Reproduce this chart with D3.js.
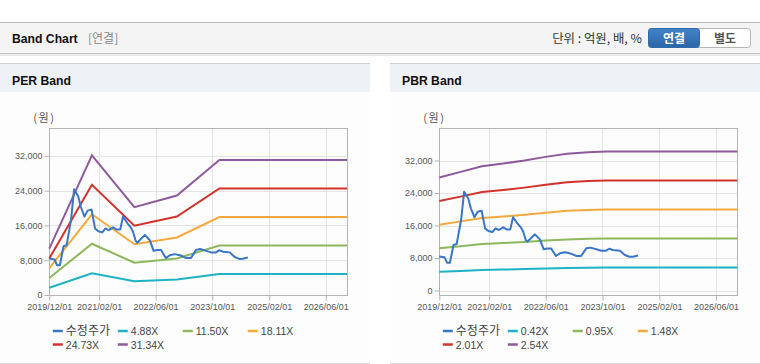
<!DOCTYPE html>
<html>
<head>
<meta charset="utf-8">
<script src="https://cdn.jsdelivr.net/npm/d3@7"></script>
<style>
  body { margin: 0; background: #fff; }
  svg { display: block; font-family: "Liberation Sans", Arial, "Noto Sans CJK KR", sans-serif; }
</style>
</head>
<body>
<svg id="chart" width="760" height="364"></svg>
<script>
// adjusted price (수정주가), shared by both charts
var priceDates = ["2019-12-01","2020-01-15","2020-02-05","2020-03-01","2020-04-01","2020-04-28","2020-06-05",
    "2020-07-01","2020-08-05","2020-08-28","2020-09-28","2020-10-25","2020-11-28","2020-12-28","2021-01-25",
    "2021-02-28","2021-03-28","2021-04-25","2021-06-01","2021-07-01","2021-08-01","2021-08-25","2021-10-01",
    "2021-11-01","2021-11-20","2021-12-12","2021-12-25","2022-03-01","2022-04-12","2022-05-15","2022-06-12",
    "2022-07-18","2022-08-28","2022-10-01","2022-11-12","2022-12-25","2023-01-18","2023-02-20","2023-04-01",
    "2023-05-15","2023-06-18","2023-08-10","2023-09-20","2023-11-01","2023-11-28","2023-12-30","2024-02-28",
    "2024-04-10","2024-05-20","2024-06-18","2024-08-01"];
var priceValues = [8400, 8170, 6850, 6850, 11200, 11450, 17350,
    24320, 22690, 20230, 18020, 19400, 19640, 15300, 14650,
    14400, 15300, 14900, 15550, 15050, 15050, 18020, 16540,
    15500, 14480, 12430, 12020, 13830, 12600, 10140, 10340,
    10340, 8490, 9150, 9400, 9150, 8900, 8490, 8490,
    10380, 10560, 10140, 9800, 9800, 10280, 9970, 9800,
    8740, 8300, 8330, 8600];

// PER band
var perDates = ["2019-12-01","2020-12-01","2021-12-01","2022-12-01","2023-12-01","2026-12-01"];
var perLabels = ["4.88X", "11.50X", "18.11X", "24.73X", "31.34X"];
var per1 = [1659, 5002, 3148, 3562, 4831, 4831];
var per2 = [3910, 11788, 7418, 8395, 11385, 11385];
var per3 = [6157, 18563, 11681, 13220, 17929, 17929];
var per4 = [8408, 25348, 15951, 18053, 24483, 24483];
var per5 = [10656, 32124, 20214, 22878, 31027, 31027];

// PBR band
var pbrDates = ["2019-12-01","2020-06-01","2020-12-01","2021-06-01","2021-12-01","2022-06-01",
    "2022-12-01","2023-06-01","2023-11-01","2026-12-01"];
var pbrLabels = ["0.42X", "0.95X", "1.48X", "2.01X", "2.54X"];
var pbr1 = [4599, 4830, 5061, 5166, 5292, 5439, 5565, 5628, 5662, 5662];
var pbr2 = [10403, 10925, 11448, 11685, 11970, 12303, 12588, 12730, 12806, 12806];
var pbr3 = [16206, 17020, 17834, 18204, 18648, 19166, 19610, 19832, 19950, 19950];
var pbr4 = [22010, 23115, 24221, 24723, 25326, 26030, 26633, 26934, 27095, 27095];
var pbr5 = [27813, 29210, 30607, 31242, 32004, 32893, 33655, 34036, 34239, 34239];

var xTickLabels = ["2019/12/01", "2021/02/01", "2022/06/01", "2023/10/01", "2025/02/01", "2026/06/01"];
var yTicks = [0, 8000, 16000, 24000, 32000];

var colors = ["#3a76c6", "#1eb2c6", "#8db85c", "#f4a93c", "#d3322c", "#8e5a9c"];
var parse = d3.timeParse("%Y-%m-%d");
var parseTick = d3.timeParse("%Y/%m/%d");

var svg = d3.select("#chart");

// top header bar
svg.append("rect").attr("x", 0).attr("y", 22).attr("width", 760).attr("height", 31)
    .attr("fill", "#f4f4f4");
svg.append("line").attr("x1", 0).attr("x2", 760).attr("y1", 22.5).attr("y2", 22.5)
    .attr("stroke", "#b8b8b8");
svg.append("line").attr("x1", 0).attr("x2", 760).attr("y1", 53.5).attr("y2", 53.5)
    .attr("stroke", "#c4c4c4");
svg.append("rect").attr("x", 0).attr("y", 54).attr("width", 760).attr("height", 2)
    .attr("fill", "#ececec");
svg.append("text").attr("x", 12).attr("y", 42.5).attr("font-size", "12.2px").attr("font-weight", "bold")
    .attr("fill", "#111").text("Band Chart");
svg.append("text").attr("x", 88).attr("y", 42.5).attr("font-size", "12px").attr("fill", "#888")
    .attr("font-family", "Noto Sans CJK KR").text("[연결]");
svg.append("text").attr("x", 642).attr("y", 42.5).attr("text-anchor", "end").attr("font-size", "12.4px")
    .attr("fill", "#333").attr("font-family", "Noto Sans CJK KR").text("단위 : 억원, 배, %");

var grad = svg.append("defs").append("linearGradient").attr("id", "btn")
    .attr("x1", 0).attr("x2", 0).attr("y1", 0).attr("y2", 1);
grad.append("stop").attr("offset", "0%").attr("stop-color", "#4384c6");
grad.append("stop").attr("offset", "100%").attr("stop-color", "#2a66a8");
svg.append("rect").attr("x", 648.5).attr("y", 28.5).attr("width", 102).attr("height", 19)
    .attr("rx", 3).attr("fill", "#fff").attr("stroke", "#b5b5b5");
svg.append("rect").attr("x", 648.5).attr("y", 28.5).attr("width", 51).attr("height", 19)
    .attr("rx", 3).attr("fill", "url(#btn)").attr("stroke", "#2e69a8");
svg.append("text").attr("x", 674).attr("y", 42.5).attr("text-anchor", "middle").attr("font-size", "12px")
    .attr("font-weight", "bold").attr("fill", "#fff").attr("font-family", "Noto Sans CJK KR").text("연결");
svg.append("text").attr("x", 725).attr("y", 42.5).attr("text-anchor", "middle").attr("font-size", "12px")
    .attr("font-weight", "bold").attr("fill", "#555").attr("font-family", "Noto Sans CJK KR").text("별도");

function drawPanel(px, pw, title, plotL, plotR, yDomain, bandDates, bands, labels) {
    var g = svg.append("g");
    var plotT = 128, plotB = 295;

    g.append("rect").attr("x", px).attr("y", 64).attr("width", pw).attr("height", 299)
        .attr("fill", "#fdfdfd");
    g.append("rect").attr("x", px).attr("y", 64).attr("width", pw).attr("height", 28)
        .attr("fill", "#eef2f7");
    g.append("line").attr("x1", px).attr("x2", px + pw).attr("y1", 63.5).attr("y2", 63.5)
        .attr("stroke", "#cfcfcf");
    g.append("line").attr("x1", px).attr("x2", px + pw).attr("y1", 363.5).attr("y2", 363.5)
        .attr("stroke", "#d8d8d8");
    g.append("text").attr("x", px + 12).attr("y", 84.5).attr("font-size", "12.2px")
        .attr("font-weight", "bold").attr("fill", "#111").text(title);

    var x = d3.scaleTime()
        .domain([parse("2019-12-01"), parse("2026-12-01")])
        .range([plotL, plotR]);
    var y = d3.scaleLinear().domain(yDomain).range([plotB, plotT]);

    var tickDates = xTickLabels.map(function(d) { return parseTick(d); });

    // grid
    g.selectAll(".vg").data(tickDates).enter().append("line")
        .attr("x1", function(d) { return Math.round(x(d)) + 0.5; })
        .attr("x2", function(d) { return Math.round(x(d)) + 0.5; })
        .attr("y1", plotT).attr("y2", plotB).attr("stroke", "#e4e4e4");
    g.selectAll(".hg").data(yTicks).enter().append("line")
        .attr("x1", plotL).attr("x2", plotR)
        .attr("y1", function(d) { return Math.round(y(d)) + 0.5; })
        .attr("y2", function(d) { return Math.round(y(d)) + 0.5; })
        .attr("stroke", "#e4e4e4");

    g.append("rect").attr("x", Math.round(plotL) + 0.5).attr("y", plotT + 0.5)
        .attr("width", Math.round(plotR - plotL)).attr("height", plotB - plotT)
        .attr("fill", "none").attr("stroke", "#b4b4b4");

    var xAxis = g.append("g").attr("transform", "translate(0," + (plotB + 0.5) + ")")
        .call(d3.axisBottom(x).tickValues(tickDates).tickSizeOuter(0).tickSize(5).tickPadding(3)
            .tickFormat(d3.timeFormat("%Y/%m/%d")));
    xAxis.select(".domain").remove();
    xAxis.selectAll("line").attr("stroke", "#b4b4b4");
    xAxis.selectAll("text").attr("fill", "#555").attr("font-size", "9px")
        .attr("font-family", "Liberation Sans, Arial, sans-serif");

    var yAxis = g.append("g").attr("transform", "translate(" + (Math.round(plotL) + 0.5) + ",0)")
        .call(d3.axisLeft(y).tickValues(yTicks).tickSize(5).tickPadding(2).tickFormat(d3.format(",")));
    yAxis.select(".domain").remove();
    yAxis.selectAll("line").attr("stroke", "#b4b4b4");
    yAxis.selectAll("text").attr("fill", "#555").attr("font-size", "9px")
        .attr("font-family", "Liberation Sans, Arial, sans-serif");

    g.append("text").attr("x", plotL - 16).attr("y", 122).attr("font-size", "11px")
        .attr("letter-spacing", "1.5px")
        .attr("fill", "#555").attr("font-family", "Noto Sans CJK KR").text("(원)");

    var line = d3.line()
        .x(function(d) { return x(d[0]); })
        .y(function(d) { return y(d[1]); });

    bands.forEach(function(vals, i) {
        var pts = bandDates.map(function(d, j) { return [parse(d), vals[j]]; });
        g.append("path").datum(pts).attr("d", line).attr("fill", "none")
            .attr("stroke", colors[i + 1]).attr("stroke-width", 2);
    });

    var pricePts = priceDates.map(function(d, j) { return [parse(d), priceValues[j]]; });
    g.append("path").datum(pricePts).attr("d", line).attr("fill", "none")
        .attr("stroke", colors[0]).attr("stroke-width", 2).attr("stroke-linejoin", "round");

    // legend
    var items = ["수정주가"].concat(labels);
    var lg = g.selectAll(".lg").data(items).enter().append("g")
        .attr("transform", function(d, i) {
            return "translate(" + (plotL + 3.5 + (i % 4) * 65) + "," + (i < 4 ? 331 : 344.5) + ")";
        });
    lg.append("line").attr("x1", 0).attr("x2", 10).attr("y1", 0).attr("y2", 0)
        .attr("stroke", function(d, i) { return colors[i]; }).attr("stroke-width", 2.5);
    lg.append("text").attr("x", 13).attr("y", 4)
        .attr("font-size", function(d, i) { return i == 0 ? "12px" : "10.5px"; })
        .attr("fill", "#444")
        .attr("font-family", function(d, i) { return i == 0 ? "Noto Sans CJK KR" : "Liberation Sans, Arial, sans-serif"; })
        .text(function(d) { return d; });
}

drawPanel(0, 370, "PER Band", 49.3, 347, [0, 38400], perDates,
    [per1, per2, per3, per4, per5], perLabels);
drawPanel(390, 370, "PBR Band", 439.3, 737.3, [-1100, 40000], pbrDates,
    [pbr1, pbr2, pbr3, pbr4, pbr5], pbrLabels);
</script>
</body>
</html>
